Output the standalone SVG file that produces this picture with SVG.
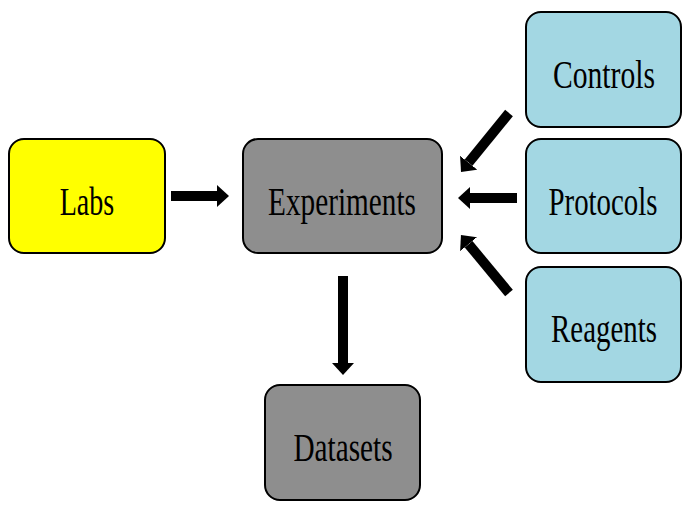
<svg xmlns="http://www.w3.org/2000/svg" width="686" height="520" viewBox="0 0 686 520">
<defs>
<style>
.box{stroke:#000;stroke-width:2}
.yellow{fill:#ffff00}
.gray{fill:#8e8e8e}
.blue{fill:#a3d7e3}
.lbl{font-family:"Liberation Serif","Times New Roman",serif;font-size:39px;fill:#000;text-anchor:middle}
.conn{stroke:#000;stroke-width:10;fill:none;marker-end:url(#head)}
</style>
<marker id="head" markerUnits="userSpaceOnUse" viewBox="0 0 12 22" markerWidth="12" markerHeight="22" refX="0" refY="11" orient="auto">
<path d="M0,0 L12,11 L0,22 z" fill="#000"/>
</marker>
</defs>
<rect width="686" height="520" fill="#fff"/>
<g id="connectors">
<line class="conn" x1="171" y1="196" x2="217" y2="196"/>
<line class="conn" x1="517" y1="198" x2="470" y2="198"/>
<line class="conn" x1="509" y1="113" x2="468.6" y2="162.7"/>
<line class="conn" x1="509" y1="293" x2="468.6" y2="244.2"/>
<line class="conn" x1="343" y1="276" x2="343" y2="363"/>
</g>
<g id="labs">
<rect class="box yellow" x="9" y="139" width="156" height="114" rx="15"/>
<text class="lbl" transform="translate(87,215) scale(0.72,1)">Labs</text>
</g>
<g id="experiments">
<rect class="box gray" x="243" y="139" width="199" height="114" rx="15"/>
<text class="lbl" transform="translate(342,215) scale(0.75,1)">Experiments</text>
</g>
<g id="controls">
<rect class="box blue" x="526" y="12" width="155" height="115" rx="15"/>
<text class="lbl" transform="translate(604,88) scale(0.76,1)">Controls</text>
</g>
<g id="protocols">
<rect class="box blue" x="526" y="139" width="155" height="114" rx="15"/>
<text class="lbl" transform="translate(603,215) scale(0.74,1)">Protocols</text>
</g>
<g id="reagents">
<rect class="box blue" x="526" y="267" width="155" height="115" rx="15"/>
<text class="lbl" transform="translate(604,342) scale(0.74,1)">Reagents</text>
</g>
<g id="datasets">
<rect class="box gray" x="265" y="385" width="155" height="115" rx="15"/>
<text class="lbl" transform="translate(343,461) scale(0.75,1)">Datasets</text>
</g>
</svg>
